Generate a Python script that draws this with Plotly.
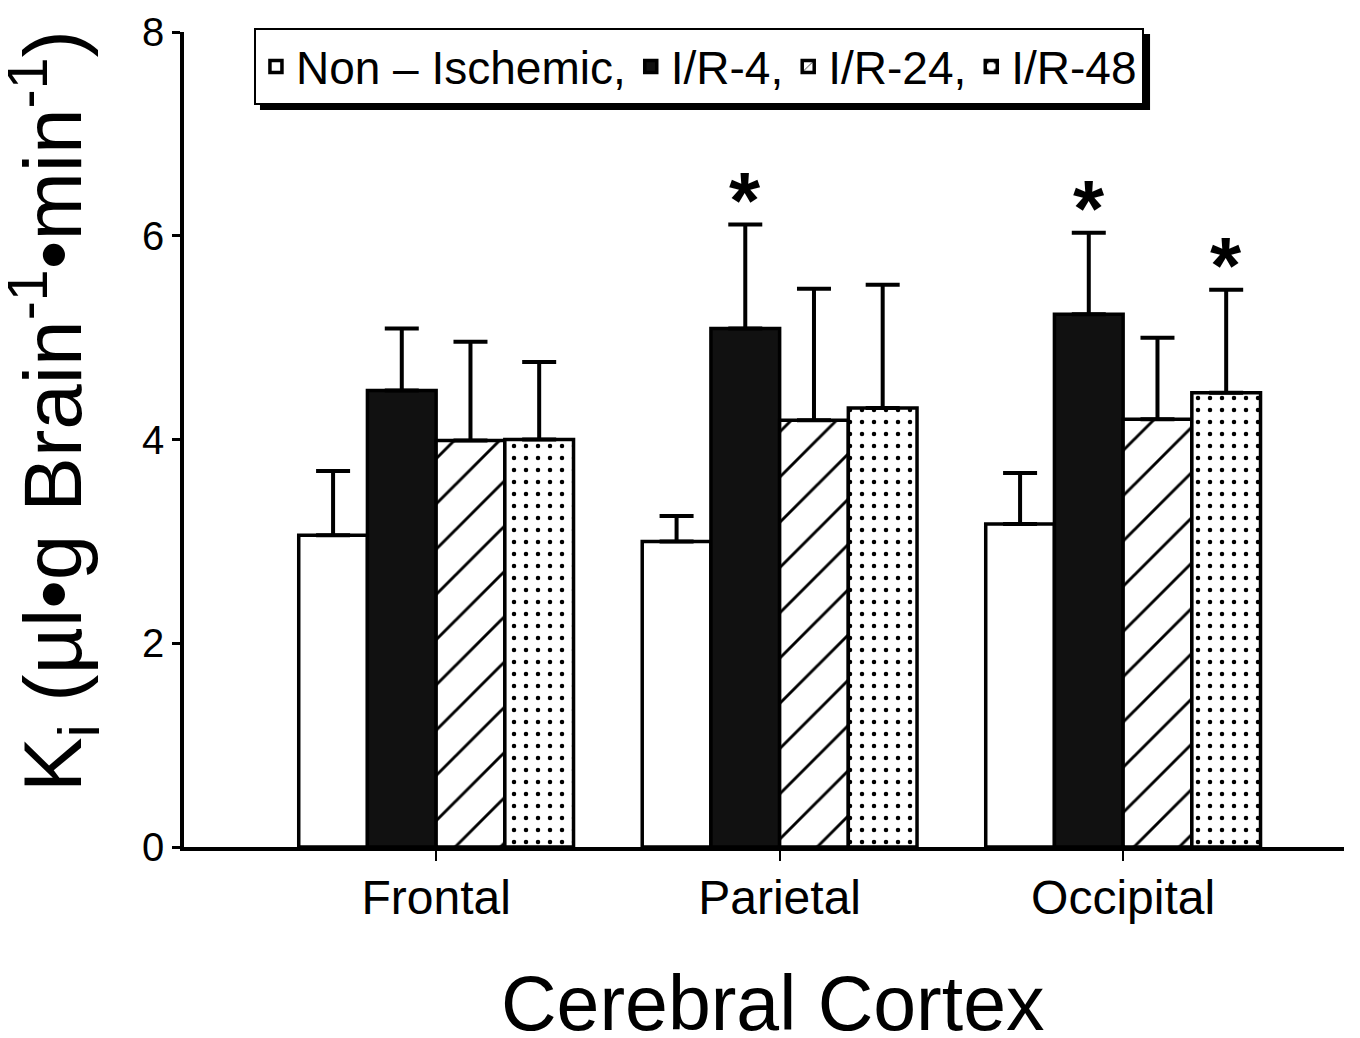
import plotly.graph_objects as go

regions = ["Frontal", "Parietal", "Occipital"]
series_names = ["Non – Ischemic,", "I/R-4,", "I/R-24,", "I/R-48"]
non_isch = [3.06, 3.00, 3.17]
non_isch_err = [0.63, 0.25, 0.50]
ir4 = [4.48, 5.09, 5.23]
ir4_err = [0.61, 1.02, 0.80]
ir24 = [3.99, 4.19, 4.20]
ir24_err = [0.97, 1.29, 0.80]
ir48 = [4.00, 4.31, 4.46]
ir48_err = [0.76, 1.21, 1.01]
# significance markers: (region index, series index)
significant = [(1, 1), (2, 1), (2, 3)]

values = [non_isch, ir4, ir24, ir48]
errors = [non_isch_err, ir4_err, ir24_err, ir48_err]
fills = ["white", "#111111", "white", "white"]
patterns = ["", "", "/", "."]
psizes = [10, 10, 32, 12]
psol = [0.2, 0.2, 0.09, 0.11]

FONT = "Liberation Sans"
fig = go.Figure()
for i in range(4):
    fig.add_trace(go.Bar(
        x=regions, y=values[i], name=series_names[i],
        marker=dict(color=fills[i], line=dict(color="black", width=3.5),
                    pattern=dict(shape=patterns[i], fgcolor="black", bgcolor="white", fgopacity=1,
                                 size=psizes[i], solidity=psol[i], fillmode="overlay") if patterns[i] else None),
        error_y=dict(type="data", array=errors[i], arrayminus=[0]*3, symmetric=False,
                     color="black", thickness=4, width=17),
    ))

n = 4
gw = 0.8
for (ri, si) in significant:
    off = -gw/2 + gw/n*(si+0.5)
    fig.add_annotation(x=ri+off, y=values[si][ri]+errors[si][ri], xref="x", yref="y",
                       text="<b>*</b>", showarrow=False, yanchor="bottom", yshift=-22,
                       font=dict(size=80, color="black", family=FONT))

fig.add_annotation(xref="paper", yref="paper", x=-0.113, y=0.535,
                   text="K<sub>i</sub> (µl•g Brain<sup>-1</sup>•min<sup>-1</sup>)",
                   textangle=-90, showarrow=False, xanchor="center", yanchor="middle",
                   font=dict(size=82, color="black", family=FONT))

fig.add_annotation(xref="paper", yref="paper", x=0.507, y=-0.191,
                   text="Cerebral Cortex", showarrow=False, xanchor="center", yanchor="middle",
                   font=dict(size=77, color="black", family=FONT))

# legend shadow
fig.add_shape(type="rect", xref="paper", yref="paper", x0=0.0655, x1=0.8328, y0=0.9043, y1=0.9975,
              fillcolor="black", line=dict(width=0), layer="above")

fig.update_layout(
    width=1360, height=1038,
    margin=dict(l=176, r=24, t=24, b=199, autoexpand=False),
    paper_bgcolor="white", plot_bgcolor="white",
    barmode="group", bargap=0.2, bargroupgap=0,
    font=dict(family=FONT, color="black", size=40),
    showlegend=True,
    legend=dict(orientation="h", x=0.0603, y=1.0049, xanchor="left", yanchor="top",
                bgcolor="white", bordercolor="black", borderwidth=2,
                font=dict(size=46, family=FONT), itemwidth=30, traceorder="normal"),
    xaxis=dict(range=[-0.734, 2.643], showline=True, linecolor="black", linewidth=3.5,
               ticks="outside", ticklen=10, tickwidth=2, tickcolor="black", automargin=False,
               tickfont=dict(size=48), ticklabelstandoff=-4, showgrid=False, zeroline=False),
    yaxis=dict(range=[0, 8], tickvals=[0, 2, 4, 6, 8], showline=True, linecolor="black", linewidth=3.5,
               ticks="outside", ticklen=8, tickwidth=3, tickcolor="black", automargin=False,
               tickfont=dict(size=40), showgrid=False, zeroline=False),
)

fig.write_html("out.html")
